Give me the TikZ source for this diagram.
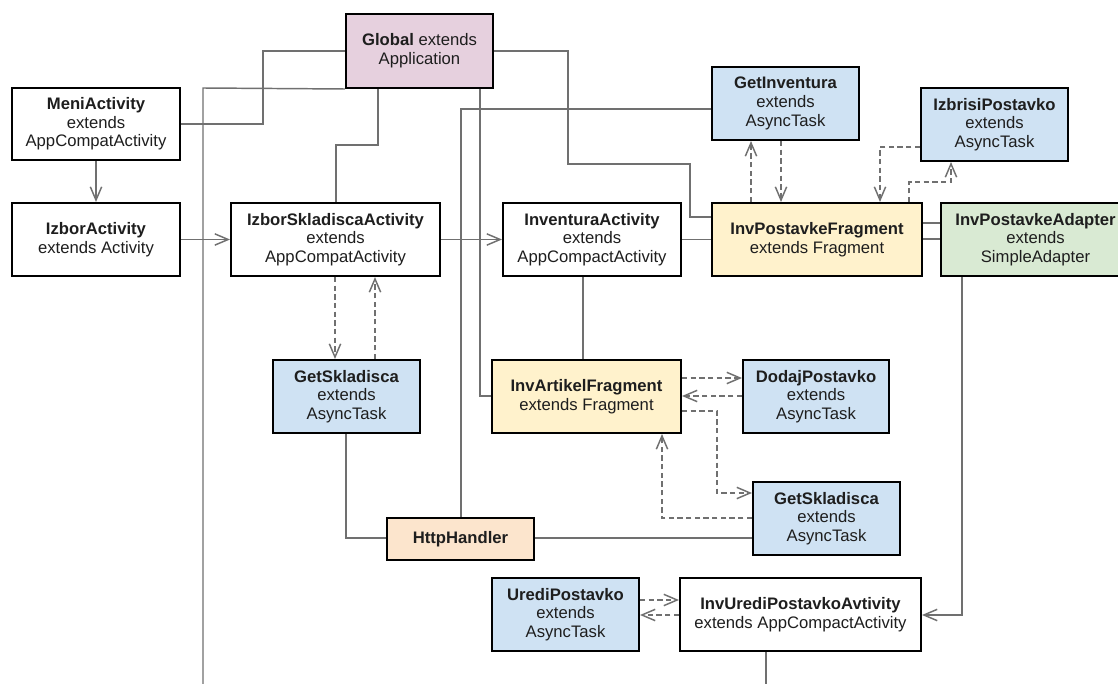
\documentclass[tikz,border=0pt]{standalone}
\usepackage{fontspec}
\setmainfont{Liberation Sans}
\usetikzlibrary{arrows.meta}
\definecolor{pinkf}{HTML}{E6D0DE}
\definecolor{bluef}{HTML}{CFE2F3}
\definecolor{yellowf}{HTML}{FFF2CC}
\definecolor{greenf}{HTML}{D9EAD3}
\definecolor{peachf}{HTML}{FCE5CD}
\definecolor{lineg}{HTML}{707070}
\definecolor{txt}{HTML}{1E1E1E}
\begin{document}
\begin{tikzpicture}[x=0.75pt,y=-0.75pt,
  box/.style={draw=black, line width=1.5pt, inner sep=0pt, align=center,
    font=\fontsize{12.5}{14}\selectfont, text=txt, minimum height=54.75pt},
  conn/.style={draw=lineg, line width=1.1pt},
  dep/.style={conn, dash pattern=on 4pt off 2.5pt},
  arr/.style={-{Straight Barb[length=10pt,width=8.5pt]}}]
\useasboundingbox (0,0) rectangle (1118,684);
\fill[white] (0,0) rectangle (1118,684);
\clip (0,0) rectangle (1118,684);

% boxes
\node[box, fill=pinkf, minimum width=110.25pt, minimum height=55.5pt] (global) at (419.5,51) {\textbf{Global} extends\\Application};
\node[box, fill=white, minimum width=126pt, minimum height=54pt] (meni) at (96,124) {\textbf{MeniActivity}\\extends\\AppCompatActivity};
\node[box, fill=white, minimum width=126pt] (izbor) at (96,239.5) {\textbf{IzborActivity}\\extends Activity};
\node[box, fill=white, minimum width=156.75pt] (izborsk) at (335.5,239.5) {\textbf{IzborSkladiscaActivity}\\extends\\AppCompatActivity};
\node[box, fill=white, minimum width=133.5pt] (inventura) at (592,239.5) {\textbf{InventuraActivity}\\extends\\AppCompactActivity};
\node[box, fill=bluef, minimum width=110.25pt] (getinv) at (785.5,103.5) {\textbf{GetInventura}\\extends\\AsyncTask};
\node[box, fill=bluef, minimum width=110.25pt] (izbrisi) at (994.5,124.5) {\textbf{IzbrisiPostavko}\\extends\\AsyncTask};
\node[box, fill=yellowf, minimum width=157.5pt] (invpf) at (817,239.5) {\textbf{InvPostavkeFragment}\\extends Fragment};
\node[box, fill=greenf, minimum width=141.75pt] (adapter) at (1035.5,239.5) {\textbf{InvPostavkeAdapter}\\extends\\SimpleAdapter};
\node[box, fill=bluef, minimum width=110.25pt] (getsk1) at (346.5,396.5) {\textbf{GetSkladisca}\\extends\\AsyncTask};
\node[box, fill=yellowf, minimum width=141.75pt] (invart) at (586.5,396.5) {\textbf{InvArtikelFragment}\\extends Fragment};
\node[box, fill=bluef, minimum width=109.5pt] (dodaj) at (816,396.5) {\textbf{DodajPostavko}\\extends\\AsyncTask};
\node[box, fill=bluef, minimum width=110.25pt] (getsk2) at (826.5,518.5) {\textbf{GetSkladisca}\\extends\\AsyncTask};
\node[box, fill=peachf, minimum width=110.25pt, minimum height=31.5pt] (http) at (460.5,539) {\textbf{HttpHandler}};
\node[box, fill=bluef, minimum width=110.25pt] (uredi) at (565.5,614.5) {\textbf{UrediPostavko}\\extends\\AsyncTask};
\node[box, fill=white, minimum width=180.75pt] (invuredi) at (800.5,614.5) {\textbf{InvUrediPostavkoAvtivity}\\extends AppCompactActivity};

\coordinate (bl) at (203,700);
\coordinate (br) at (766,700);

% solid connectors
\draw[conn,arr] (meni.south) -- (izbor.north);
\draw[conn,arr] (izbor.east) -- (izborsk.west);
\draw[conn,arr] (izborsk.east) -- (inventura.west);
\draw[conn] (global.west |- 0,51) -- (263,51) -- (263,124) -- (meni.east |- 0,124);
\draw[conn] (global.south west) -- (203,88) -- (bl);
\draw[conn] (378,0 |- global.south) -- (378,145) -- (336,145) -- (336,0 |- izborsk.north);
\draw[conn] (global.east |- 0,51) -- (568,51) -- (568,164) -- (690,164) -- (690,217) -- (invpf.west |- 0,217);
\draw[conn] (480,0 |- global.south) -- (480,396) -- (invart.west |- 0,396);
\draw[conn] (461,0 |- http.north) -- (461,109) -- (getinv.west |- 0,109);
\draw[conn] (583,0 |- inventura.south) -- (583,0 |- invart.north);
\draw[conn] (inventura.east) -- (invpf.west);
\draw[conn] (invpf.east |- 0,223) -- (adapter.west |- 0,223);
\draw[conn] (invpf.east |- 0,239) -- (adapter.west |- 0,239);
\draw[conn,arr] (962,0 |- adapter.south) -- (962,615) -- (invuredi.east |- 0,615);
\draw[conn] (346,0 |- getsk1.south) -- (346,538) -- (http.west |- 0,538);
\draw[conn] (http.east |- 0,538) -- (getsk2.west |- 0,538);
\draw[conn] (766,0 |- invuredi.south) -- (br);

% dashed connectors
\draw[dep,arr] (751,0 |- invpf.north) -- (751,0 |- getinv.south);
\draw[dep,arr] (781,0 |- getinv.south) -- (781,0 |- invpf.north);
\draw[dep,arr] (izbrisi.west |- 0,147) -- (880,147) -- (880,0 |- invpf.north);
\draw[dep,arr] (909,0 |- invpf.north) -- (909,182) -- (951,182) -- (951,0 |- izbrisi.south);
\draw[dep,arr] (335,0 |- izborsk.south) -- (335,0 |- getsk1.north);
\draw[dep,arr] (375,0 |- getsk1.north) -- (375,0 |- izborsk.south);
\draw[dep,arr] (invart.east |- 0,378) -- (dodaj.west |- 0,378);
\draw[dep,arr] (dodaj.west |- 0,396) -- (invart.east |- 0,396);
\draw[dep,arr] (invart.east |- 0,411) -- (717,411) -- (717,493) -- (getsk2.west |- 0,493);
\draw[dep,arr] (getsk2.west |- 0,518) -- (662,518) -- (662,0 |- invart.south);
\draw[dep,arr] (uredi.east |- 0,600) -- (invuredi.west |- 0,600);
\draw[dep,arr] (invuredi.west |- 0,615) -- (uredi.east |- 0,615);
\end{tikzpicture}
\end{document}
